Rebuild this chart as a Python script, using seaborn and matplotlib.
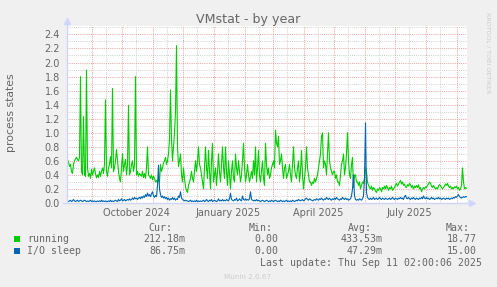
import numpy as np
import pandas as pd
import matplotlib
matplotlib.use("Agg")
import matplotlib.pyplot as plt
import seaborn as sns
from matplotlib.patches import Rectangle

# ---------------- data (daily averages, 400 days) ----------------
start_date = "2024-08-07 12:00"
n_days = 400

running = [
    0.62, 0.58, 0.52, 0.55, 0.45, 0.42, 0.55, 0.6, 0.63, 0.65, 0.62, 0.6, 0.65, 1.8, 0.45, 0.4, 1.23, 0.4, 0.38, 1.89,
    0.5, 0.38, 0.42, 0.35, 0.48, 0.4, 0.45, 0.5, 0.42, 0.36, 0.4, 0.36, 0.45, 0.38, 0.45, 0.5, 0.42, 0.55, 1.47, 0.45,
    0.38, 0.5, 0.55, 0.66, 0.5, 1.63, 0.45, 0.5, 0.6, 0.76, 0.6, 0.45, 0.35, 0.3, 0.5, 0.7, 0.45, 0.55, 0.62, 0.4,
    0.55, 1.39, 0.4, 0.45, 0.55, 0.6, 0.45, 0.55, 1.8, 0.4, 0.45, 0.38, 0.42, 0.4, 0.38, 0.45, 0.36, 0.42, 0.35, 0.5,
    0.8, 0.4, 0.38, 0.35, 0.4, 0.33, 0.38, 0.35, 0.3, 0.32, 0.28, 0.35, 0.3, 0.55, 0.45, 0.5, 0.57, 0.6, 0.65, 0.55,
    0.6, 0.7, 0.9, 1.61, 0.9, 0.6, 0.8, 1.0, 1.3, 2.24, 0.8, 0.52, 0.6, 0.7, 0.4, 0.3, 0.5, 0.35, 0.23, 0.18,
    0.15, 0.25, 0.3, 0.35, 0.45, 0.35, 0.3, 0.45, 0.6, 0.45, 0.6, 0.8, 0.55, 0.5, 0.4, 0.3, 0.2, 0.5, 0.8, 0.5,
    0.35, 0.75, 0.45, 0.2, 0.6, 0.85, 0.3, 0.4, 0.5, 0.25, 0.45, 0.7, 0.45, 0.3, 0.55, 0.8, 0.5, 0.35, 0.8, 0.45,
    0.25, 0.6, 0.4, 0.2, 0.45, 0.6, 0.35, 0.3, 0.7, 0.5, 0.4, 0.6, 0.45, 0.3, 0.4, 0.6, 0.85, 0.5, 0.3, 0.4,
    0.55, 0.4, 0.3, 0.37, 0.45, 0.35, 0.6, 0.4, 0.8, 0.3, 0.5, 0.75, 0.4, 0.3, 0.45, 0.6, 0.35, 0.25, 0.85, 0.55,
    0.4, 0.5, 0.35, 0.4, 0.5, 0.55, 0.6, 0.5, 1.04, 0.85, 0.8, 0.95, 0.55, 0.6, 0.7, 0.5, 0.35, 0.5, 0.55, 0.35,
    0.4, 0.45, 0.55, 0.4, 0.3, 0.55, 0.8, 0.5, 0.4, 0.35, 0.5, 0.6, 0.3, 0.45, 0.75, 0.4, 0.2, 0.35, 0.5, 0.8,
    0.5, 0.4, 0.3, 0.3, 0.25, 0.3, 0.28, 0.35, 0.3, 0.35, 0.4, 0.5, 0.6, 0.7, 0.95, 1.0, 0.5, 0.6, 0.55, 0.4,
    0.7, 1.0, 0.6, 0.5, 0.45, 0.4, 0.45, 0.45, 0.35, 0.4, 0.3, 0.3, 0.25, 0.4, 0.55, 0.6, 0.7, 0.4, 0.5, 0.7,
    1.0, 0.6, 0.4, 0.35, 0.55, 0.65, 0.22, 0.4, 0.4, 0.3, 0.3, 0.25, 0.3, 0.2, 0.25, 0.3, 0.28, 0.35, 0.5, 0.45,
    0.3, 0.25, 0.22, 0.2, 0.24, 0.18, 0.22, 0.2, 0.17, 0.15, 0.2, 0.18, 0.22, 0.2, 0.16, 0.22, 0.2, 0.24, 0.2, 0.25,
    0.22, 0.18, 0.22, 0.2, 0.24, 0.18, 0.2, 0.22, 0.25, 0.28, 0.24, 0.27, 0.3, 0.32, 0.27, 0.3, 0.25, 0.27, 0.23, 0.22,
    0.26, 0.24, 0.28, 0.26, 0.22, 0.25, 0.2, 0.24, 0.22, 0.25, 0.22, 0.26, 0.2, 0.22, 0.16, 0.2, 0.22, 0.2, 0.23, 0.22,
    0.25, 0.27, 0.3, 0.28, 0.24, 0.22, 0.25, 0.22, 0.2, 0.22, 0.2, 0.24, 0.26, 0.25, 0.22, 0.2, 0.22, 0.24, 0.27, 0.25,
    0.28, 0.24, 0.22, 0.24, 0.2, 0.22, 0.2, 0.23, 0.22, 0.24, 0.2, 0.22, 0.18, 0.2, 0.25, 0.5, 0.3, 0.2, 0.22, 0.21,
]

io_sleep = [
    0.03, 0.02, 0.03, 0.04, 0.02, 0.03, 0.05, 0.03, 0.02, 0.03, 0.04, 0.02, 0.03, 0.04, 0.03, 0.02, 0.03, 0.04, 0.03, 0.02,
    0.03, 0.02, 0.03, 0.04, 0.02, 0.03, 0.02, 0.03, 0.02, 0.02, 0.03, 0.02, 0.03, 0.02, 0.04, 0.02, 0.03, 0.02, 0.03, 0.02,
    0.02, 0.03, 0.02, 0.04, 0.02, 0.03, 0.02, 0.03, 0.04, 0.03, 0.02, 0.05, 0.03, 0.04, 0.06, 0.03, 0.04, 0.05, 0.03, 0.04,
    0.05, 0.04, 0.06, 0.04, 0.05, 0.07, 0.05, 0.08, 0.06, 0.07, 0.05, 0.07, 0.08, 0.06, 0.09, 0.07, 0.1, 0.08, 0.12, 0.09,
    0.14, 0.1, 0.12, 0.09, 0.13, 0.16, 0.1, 0.08, 0.11, 0.09, 0.25, 0.54, 0.2, 0.12, 0.08, 0.1, 0.07, 0.09, 0.06, 0.08,
    0.05, 0.07, 0.04, 0.06, 0.05, 0.08, 0.05, 0.07, 0.04, 0.06, 0.05, 0.1, 0.08, 0.16, 0.07, 0.05, 0.04, 0.03, 0.04, 0.03,
    0.03, 0.02, 0.03, 0.04, 0.02, 0.03, 0.02, 0.03, 0.02, 0.04, 0.02, 0.03, 0.02, 0.03, 0.02, 0.03, 0.04, 0.02, 0.03, 0.05,
    0.03, 0.02, 0.04, 0.03, 0.05, 0.02, 0.03, 0.04, 0.03, 0.02, 0.03, 0.06, 0.03, 0.04, 0.03, 0.05, 0.03, 0.04, 0.03, 0.05,
    0.04, 0.03, 0.06, 0.14, 0.05, 0.04, 0.03, 0.05, 0.04, 0.07, 0.03, 0.04, 0.06, 0.04, 0.03, 0.1, 0.05, 0.04, 0.06, 0.04,
    0.05, 0.04, 0.06, 0.16, 0.05, 0.04, 0.03, 0.04, 0.03, 0.05, 0.03, 0.04, 0.03, 0.02, 0.03, 0.04, 0.03, 0.02, 0.03, 0.04,
    0.03, 0.02, 0.03, 0.02, 0.04, 0.03, 0.02, 0.03, 0.04, 0.03, 0.02, 0.03, 0.02, 0.04, 0.03, 0.02, 0.03, 0.02, 0.03, 0.04,
    0.02, 0.03, 0.02, 0.03, 0.02, 0.04, 0.03, 0.02, 0.03, 0.04, 0.03, 0.05, 0.04, 0.03, 0.04, 0.05, 0.03, 0.04, 0.06, 0.07,
    0.05, 0.04, 0.06, 0.05, 0.04, 0.03, 0.04, 0.05, 0.04, 0.06, 0.05, 0.04, 0.06, 0.05, 0.07, 0.05, 0.04, 0.06, 0.05, 0.08,
    0.06, 0.05, 0.07, 0.05, 0.04, 0.06, 0.05, 0.07, 0.05, 0.08, 0.06, 0.05, 0.04, 0.06, 0.05, 0.08, 0.06, 0.05, 0.07, 0.05,
    0.06, 0.04, 0.05, 0.06, 0.1, 0.2, 0.4, 0.1, 0.05, 0.04, 0.05, 0.04, 0.06, 0.05, 0.04, 0.06, 0.1, 0.35, 1.14, 0.15,
    0.08, 0.06, 0.05, 0.07, 0.05, 0.06, 0.08, 0.05, 0.06, 0.07, 0.05, 0.06, 0.08, 0.06, 0.05, 0.07, 0.06, 0.05, 0.07, 0.06,
    0.05, 0.06, 0.07, 0.05, 0.06, 0.08, 0.06, 0.05, 0.07, 0.06, 0.05, 0.07, 0.06, 0.08, 0.06, 0.07, 0.05, 0.09, 0.11, 0.07,
    0.06, 0.08, 0.06, 0.05, 0.07, 0.06, 0.08, 0.06, 0.05, 0.07, 0.06, 0.05, 0.07, 0.06, 0.08, 0.06, 0.1, 0.07, 0.06, 0.08,
    0.06, 0.07, 0.05, 0.06, 0.08, 0.06, 0.07, 0.05, 0.06, 0.07, 0.06, 0.08, 0.06, 0.07, 0.05, 0.06, 0.07, 0.06, 0.05, 0.07,
    0.06, 0.07, 0.05, 0.06, 0.07, 0.06, 0.08, 0.07, 0.09, 0.08, 0.1, 0.12, 0.09, 0.08, 0.07, 0.08, 0.09, 0.08, 0.09, 0.09,
]

series_names = ["running", "I/O sleep"]
series_colors = ["#00CC00", "#0066B3"]
tick_label_dates = ["2024-10-16", "2025-01-16", "2025-04-16", "2025-07-16"]
tick_label_texts = ["October 2024", "January 2025", "April 2025", "July 2025"]
y_tick_values = [0.0, 0.2, 0.4, 0.6, 0.8, 1.0, 1.2, 1.4, 1.6, 1.8, 2.0, 2.2, 2.4]

legend_cur = ["212.18m", "86.75m"]
legend_min = ["0.00", "0.00"]
legend_avg = ["433.53m", "47.29m"]
legend_max = ["18.77", "15.00"]

# ---------------- figure ----------------
W, H = 497, 287
fig = plt.figure(figsize=(W / 100, H / 100), dpi=100, facecolor="#F0F0F0")
ax = fig.add_axes([67 / W, 84 / H, 400 / W, 177 / H])
ax.set_facecolor("#FFFFFF")

t0 = pd.Timestamp(start_date)
dates = pd.date_range(t0 + pd.Timedelta(hours=12), periods=n_days, freq="D")
df = pd.concat([
    pd.DataFrame({"date": dates, "value": running, "series": series_names[0]}),
    pd.DataFrame({"date": dates, "value": io_sleep, "series": series_names[1]}),
])

t_end = t0 + pd.Timedelta(days=n_days)
ax.set_xlim(t0, t_end)
ax.set_ylim(0, 2.52)

# grid (rrdtool style)
grid_gray = "#d0d0d0"
grid_red = "#e8a0a0"
dots = (0, (1, 1.2))
for v in np.arange(0.1, 2.55, 0.2):
    ax.axhline(v, color=grid_gray, lw=0.7, ls=dots, zorder=0.5)
for v in y_tick_values[1:]:
    ax.axhline(v, color=grid_red, lw=0.7, ls=dots, zorder=0.6)
for d in pd.date_range("2024-08-15", "2025-09-15", freq="MS") + pd.Timedelta(days=14):
    if t0 < d < t_end:
        ax.axvline(d, color=grid_gray, lw=0.7, ls=dots, zorder=0.5)
for d in pd.date_range("2024-09-01", "2025-09-01", freq="MS"):
    ax.axvline(d, color=grid_red, lw=0.7, ls=dots, zorder=0.6)

sns.lineplot(data=df, x="date", y="value", hue="series", hue_order=series_names,
             palette=series_colors, estimator=None, legend=False, linewidth=0.8, ax=ax, zorder=3)

for s in ax.spines.values():
    s.set_visible(False)

axis_col = "#CFD6F8"
ax.plot([0, 0], [0, 1.02], transform=ax.transAxes, color=axis_col, lw=1.0, clip_on=False, zorder=4)
ax.plot([-0.01, 1.01], [0, 0], transform=ax.transAxes, color=axis_col, lw=1.0, clip_on=False, zorder=4)
ax.plot([0], [1.03], marker="^", ms=4.5, color=axis_col, transform=ax.transAxes, clip_on=False, zorder=4)
ax.plot([1.013], [0], marker=">", ms=4.5, color=axis_col, transform=ax.transAxes, clip_on=False, zorder=4)

ax.set_yticks(y_tick_values)
ax.set_yticklabels([f"{v:.1f}" for v in y_tick_values])
ax.set_xticks(pd.to_datetime(tick_label_dates))
ax.set_xticklabels(tick_label_texts)
ax.tick_params(axis="y", length=0, pad=5, labelsize=7, labelcolor="#666666")
ax.tick_params(axis="x", length=0, pad=3.5, labelsize=7, labelcolor="#666666")
ax.set_xlabel("")
ax.set_ylabel("")

font_col = "#666666"
fig.text(248 / W, 1 - 19.5 / H, "VMstat - by year", ha="center", va="center", fontsize=9.1, color=font_col)
fig.text(11 / W, 1 - 113 / H, "process states", ha="center", va="center", rotation=90, fontsize=7.8, color=font_col)
fig.text(488 / W, 1 - 53 / H, "RRDTOOL / TOBI OETIKER", ha="center", va="center", rotation=270,
         fontsize=4.6, color="#cccccc")

mono = "DejaVu Sans Mono"
fs = 7.1

def ftext(x, y, s, ha="left", **kw):
    fig.text(x / W, 1 - y / H, s, ha=ha, va="center", fontsize=fs, family=mono, color=font_col, **kw)

ftext(172, 227.7, "Cur:", ha="right")
ftext(273, 227.7, "Min:", ha="right")
ftext(372, 227.7, "Avg:", ha="right")
ftext(470, 227.7, "Max:", ha="right")
rows_y = [239.3, 251.0]
for i, name in enumerate(series_names):
    y = rows_y[i]
    fig.patches.append(Rectangle((14 / W, 1 - (y + 2.5) / H), 5.5 / W, 5.5 / H,
                                 transform=fig.transFigure, facecolor=series_colors[i], edgecolor="none"))
    ftext(27, y, name)
    ftext(185, y, legend_cur[i], ha="right")
    ftext(278, y, legend_min[i], ha="right")
    ftext(383, y, legend_avg[i], ha="right")
    ftext(477, y, legend_max[i], ha="right")
ftext(482, 263.3, "Last update: Thu Sep 11 02:00:06 2025", ha="right")
fig.text(247.5 / W, 1 - 276.7 / H, "Munin 2.0.67", ha="center", va="center", fontsize=5.2, color="#cccccc")

fig.savefig("out.png", dpi=100, facecolor=fig.get_facecolor())
